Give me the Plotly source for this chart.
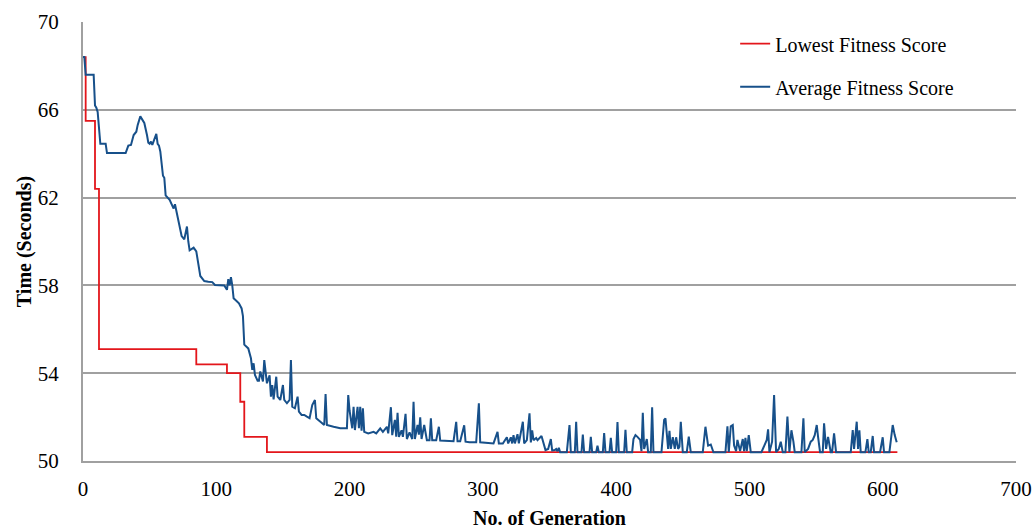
import plotly.graph_objects as go

# ---- data ----
lowest_gen = [0, 2, 9, 12, 85, 108, 118, 121, 138, 611]
lowest_val = [68.4, 65.5, 62.4, 55.1, 54.4, 54.0, 52.7, 51.1, 50.4, 50.4]

avg_gen = [0, 1, 2, 8, 9, 10, 11, 13, 17, 18, 32, 34, 36, 38, 40, 41, 43, 45, 46, 48,
           49, 50, 51, 52, 53, 55, 56, 57, 58, 60, 61, 62, 65, 68, 69, 70, 72, 74, 76, 78,
           79, 80, 83, 85, 88, 91, 94, 97, 99, 106, 108, 109, 110, 111, 112, 113, 115, 117, 119, 120,
           121, 124, 126, 127, 128, 129, 131, 132, 133, 135, 136, 137, 138, 140, 141, 142, 143, 145, 146, 148,
           150, 151, 153, 155, 156, 157, 159, 161, 162, 164, 166, 168, 170, 172, 174, 175, 178, 181, 182, 183,
           188, 193, 198, 199, 200, 202, 203, 204, 206, 207, 208, 209, 210, 211, 214, 216, 218, 220, 223, 225,
           228, 229, 231, 232, 234, 235, 236, 237, 239, 240, 242, 243, 245, 247, 248, 249, 251, 252, 253, 254,
           256, 258, 260, 261, 262, 265, 267, 268, 273, 278, 280, 281, 283, 286, 287, 290, 295, 297, 298, 302,
           308, 311, 312, 315, 318, 319, 321, 322, 323, 324, 326, 327, 330, 331, 333, 335, 336, 337, 338, 340,
           341, 344, 345, 347, 349, 351, 352, 354, 355, 356, 357, 358, 363, 365, 366, 369, 370, 371, 374, 375,
           376, 380, 381, 382, 385, 386, 387, 390, 391, 392, 395, 396, 397, 400, 401, 402, 406, 407, 408, 412,
           413, 414.5, 416, 418, 419, 420, 421, 423, 424, 426, 427, 428, 434, 436, 437, 439, 440, 441, 442.5, 444,
           445, 446.5, 447.5, 448.5, 450, 453, 454.5, 456, 465, 467, 469, 471, 473, 482, 483.5, 484.5, 486, 487.5, 488.5, 490,
           491, 492, 493, 495, 496, 497, 498, 499.5, 501, 509, 511, 513, 514, 515, 517, 518.5, 520, 522, 523.5, 525,
           527, 528.5, 530, 531.5, 533, 534, 539, 540.5, 541.5, 544, 546, 547.5, 549, 550.5, 551.5, 553, 555, 556, 557.5, 559,
           561, 562, 563.5, 565, 576, 577.5, 578.5, 580.5, 581.5, 582.5, 583.5, 587, 588.5, 589.5, 591, 592.5, 593.5, 598, 600, 601,
           605, 607.5, 609, 610.5]
avg_val = [68.4, 68.4, 67.6, 67.6, 66.2, 66.1, 65.9, 64.45, 64.45, 64.03, 64.03, 64.37, 64.4, 64.85, 65.0, 65.3, 65.7, 65.45, 65.4, 64.85,
           64.5, 64.45, 64.55, 64.4, 64.55, 64.9, 64.45, 64.37, 64.1, 63.0, 62.9, 62.1, 61.9, 61.5, 61.7, 61.43, 60.84, 60.25, 60.1, 60.68,
           60.0, 59.6, 59.72, 59.55, 58.43, 58.2, 58.17, 58.15, 58.02, 58.0, 57.8, 58.28, 58.0, 58.37, 58.0, 57.41, 57.3, 57.18, 56.95, 56.6,
           55.3, 55.13, 54.68, 54.15, 54.45, 53.92, 53.66, 53.66, 54.08, 53.62, 54.6, 53.92, 53.54, 53.9, 52.93, 53.46, 52.81, 53.84, 52.93, 52.78,
           53.46, 52.78, 52.63, 52.78, 54.6, 52.47, 52.4, 52.93, 52.25, 52.1, 52.1, 52.02, 51.95, 52.55, 52.78, 51.95, 51.79, 51.64, 53.05, 51.64,
           51.56, 51.49, 51.49, 53.0, 52.3, 51.49, 52.47, 51.41, 52.47, 51.49, 52.47, 51.38, 52.4, 51.33, 51.26, 51.3, 51.33, 51.26, 51.49, 51.33,
           51.56, 51.26, 52.45, 51.18, 51.87, 51.11, 52.2, 51.1, 51.4, 51.1, 52.15, 51.0, 51.3, 51.0, 52.7, 51.0, 51.64, 51.2, 51.99, 51.0,
           51.64, 50.95, 50.95, 51.94, 50.95, 50.95, 51.56, 50.93, 50.93, 50.9, 51.78, 50.9, 50.9, 51.63, 50.88, 50.85, 50.85, 52.63, 50.85, 50.83,
           50.8, 51.33, 50.8, 50.8, 51.08, 50.8, 51.08, 50.8, 51.18, 50.8, 51.22, 50.8, 51.79, 50.8, 50.95, 52.17, 50.85, 51.4, 50.95, 51.05,
           50.95, 51.14, 50.9, 50.5, 50.55, 51.0, 50.48, 50.5, 50.55, 50.45, 50.6, 50.4, 50.4, 51.64, 50.4, 50.4, 51.79, 50.4, 50.4, 51.2,
           50.4, 50.4, 51.1, 50.4, 50.4, 50.7, 50.4, 50.4, 51.27, 50.4, 50.4, 51.05, 50.4, 50.4, 51.78, 50.4, 50.4, 51.42, 50.4, 50.4,
           51.0, 51.18, 51.1, 50.96, 50.45, 52.2, 50.55, 51.0, 50.4, 50.4, 52.45, 50.4, 50.4, 51.87, 51.94, 50.55, 51.38, 50.55, 51.08, 50.55,
           51.08, 50.55, 50.65, 51.79, 50.4, 50.4, 51.11, 50.4, 50.4, 51.56, 50.7, 50.75, 50.4, 50.4, 51.58, 50.4, 51.58, 51.64, 50.7, 50.45,
           50.96, 50.7, 50.45, 51.0, 50.45, 51.06, 50.45, 51.18, 50.4, 50.4, 50.7, 50.96, 51.44, 50.4, 50.88, 53.0, 50.4, 50.55, 50.88, 50.4,
           50.4, 52.02, 50.4, 51.4, 50.88, 50.4, 50.4, 51.95, 50.4, 50.55, 50.88, 50.96, 51.18, 51.64, 51.1, 50.4, 50.4, 51.72, 50.55, 51.1,
           50.4, 50.4, 51.26, 50.4, 50.4, 51.41, 50.55, 51.79, 50.55, 51.4, 50.4, 50.4, 51.0, 50.4, 50.4, 51.14, 50.4, 50.4, 51.08, 50.4,
           50.4, 51.64, 51.18, 50.85]

x_ticks = [0, 100, 200, 300, 400, 500, 600, 700]
y_ticks = [50, 54, 58, 62, 66, 70]

FONT = "Palatino Linotype, Book Antiqua, Palatino, Liberation Serif, serif"

fig = go.Figure()
fig.add_trace(go.Scatter(x=lowest_gen, y=lowest_val, mode="lines", line_shape="hv",
                         name="Lowest Fitness Score", legendgroup="a",
                         line=dict(color="#e3161b", width=1.8)))
fig.add_trace(go.Scatter(x=avg_gen, y=avg_val, mode="lines",
                         name="Average Fitness Score", legendgroup="b",
                         line=dict(color="#17508a", width=2)))

fig.update_layout(
    width=1034, height=529,
    margin=dict(l=83, r=18, t=22, b=68),
    paper_bgcolor="white", plot_bgcolor="white",
    font=dict(family=FONT, size=20, color="black"),
    showlegend=True,
    legend=dict(x=0.699, y=0.995, xanchor="left", yanchor="top",
                bgcolor="rgba(0,0,0,0)", tracegroupgap=14,
                font=dict(family=FONT, size=20, color="black")),
    xaxis=dict(range=[0, 700], tickvals=x_ticks, showgrid=False, zeroline=False,
               automargin=False,
               showline=True, linecolor="#a0a0a0", linewidth=2,
               tickfont=dict(family=FONT, size=21), ticks="", ticklabelstandoff=8,
               title=dict(text="<b>No. of Generation</b>", font=dict(family=FONT, size=20),
                          standoff=18)),
    yaxis=dict(range=[50, 70], tickvals=y_ticks, showgrid=True, gridcolor="#a0a0a0",
               gridwidth=1.5, zeroline=False, showline=True, linecolor="#a0a0a0", linewidth=2,
               automargin=False,
               tickfont=dict(family=FONT, size=21), ticks="", ticklabelstandoff=18,
               title=dict(text="<b>Time (Seconds)</b>", font=dict(family=FONT, size=20),
                          standoff=1)),
)

fig.write_html("out.html", config={"displayModeBar": False},
               post_script="document.body.style.margin='0';document.body.style.overflow='hidden';")
